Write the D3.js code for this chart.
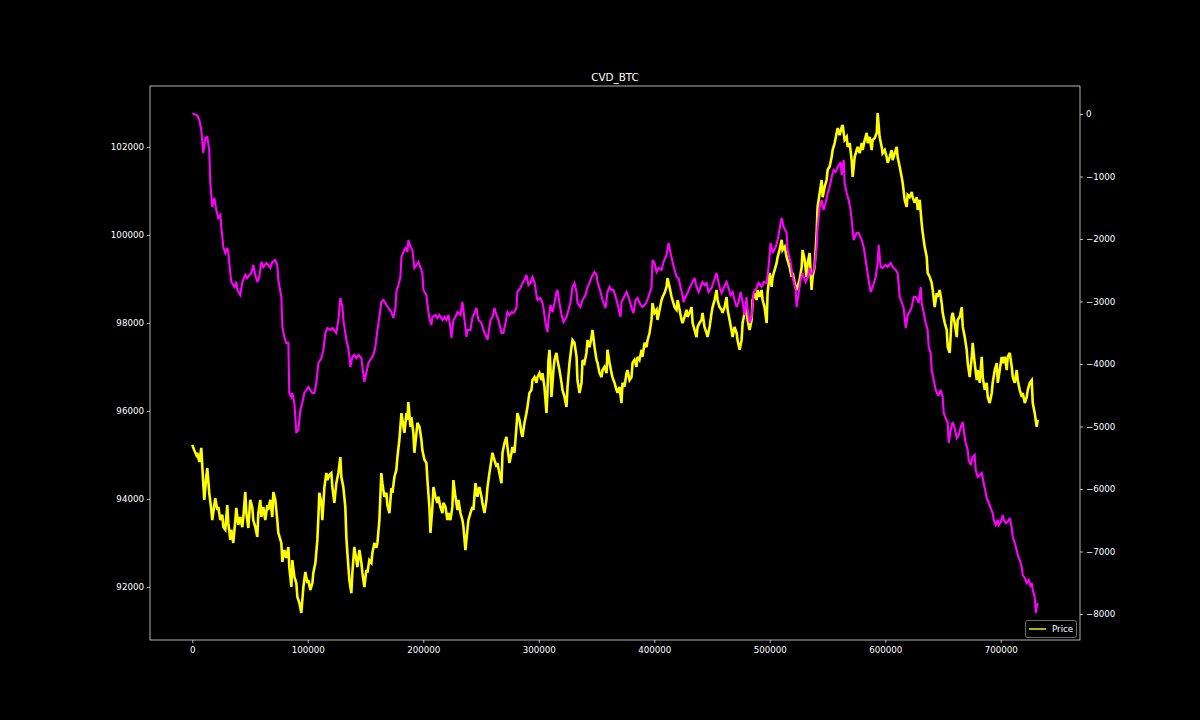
<!DOCTYPE html>
<html>
<head>
<meta charset="utf-8">
<script src="https://cdn.jsdelivr.net/npm/d3@7"></script>
<style>
  html, body { margin: 0; padding: 0; background: #000; }
  svg { display: block; }
  text { font-family: "DejaVu Sans", sans-serif; fill: #fff; }
</style>
</head>
<body>
<svg id="chart" width="1200" height="720"></svg>
<script>
// ---------------- data ----------------
const chartTitle = "CVD_BTC";
const legendLabels = ["Price"];
const xTicks = [0, 100000, 200000, 300000, 400000, 500000, 600000, 700000];
const priceTicks = [92000, 94000, 96000, 98000, 100000, 102000];
const cvdTicks = [0, -1000, -2000, -3000, -4000, -5000, -6000, -7000, -8000];
const xDomain = [-36600, 768600];
const priceDomain = [90795, 103386];
const cvdDomain = [-8416, 448];

// Price series: [tick index, price]
const priceSeries = [
[0,95230],[1700,95110],[3500,95000],[4300,95050],[6100,94840],[7800,95160],[8700,94730],[9500,94360],[10400,93980],[12100,94500],
[13000,94700],[14700,94140],[16500,93750],[17300,93520],[19900,94020],[21700,93750],[22500,93820],[24300,93520],[26000,93640],[26900,93360],
[28600,93300],[30300,93860],[31200,93450],[32900,93070],[33800,93300],[35500,93000],[37300,93520],[38100,93800],[39800,93410],[41600,93590],
[43300,93360],[44200,93590],[45900,94160],[46800,93680],[48500,93340],[50200,93980],[52000,93800],[52800,93520],[54600,93360],[56300,93140],
[57200,93680],[58900,93980],[59800,93590],[61500,93820],[63200,93520],[65000,93860],[65800,93750],[67600,93980],[69300,93590],[70200,94160],
[71900,93980],[73600,93520],[74500,93230],[77100,93000],[78000,92570],[79700,92840],[81400,92660],[83200,92910],[84000,92450],[85800,92000],
[86600,92610],[88400,92230],[90100,92090],[91000,91770],[92700,91640],[94400,91410],[95300,91700],[96200,92000],[97900,92340],[99600,92090],
[100500,92160],[102200,91930],[104000,92090],[104800,92320],[106600,92550],[108300,93070],[109200,93590],[110000,94140],[111800,93910],[112600,93520],
[114400,94270],[116100,94590],[117000,94430],[118700,94550],[120400,94590],[121300,94270],[123000,93910],[124700,94360],[126500,94590],[128200,94950],
[129100,94500],[130800,94270],[132500,93820],[133400,93140],[134300,92770],[136000,92160],[137700,91860],[138600,92320],[140300,92910],[142100,92610],
[142900,92450],[144700,92840],[146400,92550],[147300,92320],[149000,92000],[150700,92390],[151600,92320],[153300,92610],[155100,92550],[155900,92770],
[157700,93000],[159400,92890],[160300,93000],[162000,93520],[163700,94590],[164600,94360],[166300,94050],[168100,94140],[168900,93860],[170700,93680],
[172400,94250],[173300,94140],[175000,94500],[176700,94660],[177600,94950],[179300,95340],[181100,95950],[181900,95800],[183700,95500],[185400,95950],
[186300,95800],[187100,96200],[188900,95640],[189700,95860],[191400,95500],[192300,95050],[194100,95500],[194900,95730],[196700,95640],[198400,95340],
[199200,95110],[201000,94890],[202700,94820],[203600,94430],[205300,93820],[206200,93230],[207900,93820],[208800,94270],[210500,94050],[212200,93910],
[213100,94050],[214800,93820],[216600,93680],[217400,93910],[219200,93820],[220900,93520],[221800,93680],[223500,93520],[225200,93820],[226100,94430],
[227800,94050],[229600,93750],[230400,93980],[232200,93680],[233900,93520],[234800,93360],[236500,92840],[238200,93300],[239100,93520],[240800,93680],
[242600,93820],[243400,93750],[245200,94360],[246900,94050],[247800,94200],[248600,94270],[250400,94050],[251200,93910],[253000,93680],[254700,93980],
[255600,94270],[257300,94590],[259000,94890],[259900,95050],[261600,94890],[263400,94730],[264200,94820],[265900,94590],[267700,94360],[268600,95050],
[270300,95270],[272000,95410],[272900,95180],[274600,94820],[276400,95050],[277200,95180],[278900,95050],[280700,95640],[281500,95950],[283300,95800],
[285000,95500],[285900,95410],[287600,95730],[289300,95950],[290200,96090],[291900,96410],[293700,96480],[294500,96700],[296300,96770],[298000,96640],
[298900,96770],[300600,96860],[302300,96700],[303200,96860],[304900,96550],[306700,95950],[307500,96410],[308400,97160],[309300,97390],[310100,97000],
[311000,96320],[312700,96930],[313600,97160],[315300,97320],[316200,97160],[317900,96930],[319700,96640],[320500,96480],[322300,96320],[324000,96090],
[324900,96550],[326600,97090],[328300,97450],[329200,97610],[330900,97550],[332700,97230],[333500,96700],[335300,96410],[337000,96640],[337900,97160],
[339600,97090],[341300,97320],[342200,97610],[343900,97450],[345700,97680],[346500,97840],[348300,97450],[350000,97160],[350900,97090],[352600,96860],
[354300,96770],[355200,96930],[356900,97000],[358700,96860],[359500,97390],[361300,97090],[363000,96860],[363800,96770],[365600,96640],[367300,96480],
[368200,96410],[369900,96550],[371600,96180],[372500,96640],[374200,96550],[376000,96860],[376800,96930],[378600,96700],[380300,96770],[381200,97090],
[382900,97160],[384600,97000],[385500,97230],[387200,97160],[389000,97390],[389800,97230],[391600,97550],[393300,97450],[394200,97610],[395900,97770],
[397600,98070],[398500,98450],[400200,98230],[402000,98300],[402800,98070],[404600,98300],[406300,98520],[407200,98590],[408900,98680],[410600,98820],
[411500,99020],[413200,98820],[415000,98590],[415800,98520],[417600,98360],[419300,98300],[420200,98520],[421900,98300],[423600,98070],[424500,98000],
[426200,98140],[428000,98300],[428800,98140],[430500,98230],[432300,98360],[433200,98000],[434900,97840],[436600,97680],[437500,97910],[439200,98000],
[440900,98070],[441800,98230],[443500,97910],[445300,97770],[446100,97680],[447900,97910],[449600,98230],[450500,98360],[452200,98520],[453900,98750],
[454800,98520],[456500,98360],[458300,98300],[459100,98230],[460900,98360],[462600,98590],[463500,98300],[465200,98070],[466900,97840],[467800,97680],
[469500,97910],[471300,97770],[472100,97610],[473900,97390],[475600,97610],[476500,98000],[478200,98230],[479900,98360],[480800,98070],[482500,97840],
[484300,98070],[485100,98520],[486900,98680],[488600,98520],[489500,98750],[491200,98590],[492900,98750],[493800,98520],[495500,98360],[497300,98000],
[498100,98680],[499900,99140],[501600,98820],[502500,99050],[504200,99200],[505900,99360],[506800,99500],[508500,99660],[510300,99890],[511100,99660],
[512900,99730],[514600,99500],[515400,99430],[517200,99270],[518900,99050],[519800,99140],[521500,98910],[523200,98750],[524100,98820],[525800,98980],
[527600,99270],[528400,99660],[530200,99430],[531900,99050],[532800,99360],[534500,99590],[536200,98750],[537100,99050],[538800,99270],[540600,100050],
[541400,100640],[543200,100950],[544900,101250],[545800,100860],[547500,101090],[549200,101250],[550100,101480],[551800,101550],[553600,101770],[554400,101930],
[556200,102090],[557900,102320],[558800,102430],[560500,102270],[562200,102450],[563100,102500],[564800,102160],[566600,102230],[567400,102000],[569200,102090],
[570900,101700],[571800,101320],[573500,101770],[575200,101930],[576100,102000],[577800,101860],[579600,102090],[580400,101930],[582200,102160],[583900,102320],
[584800,102090],[586500,102230],[588200,101930],[589100,102160],[590800,102200],[592600,102320],[593400,102770],[595100,102230],[596900,102000],[597700,101860],
[599500,101930],[601200,101770],[602100,101640],[603800,101770],[605500,101930],[606400,101700],[608200,101860],[609900,102000],[610700,101770],[612500,101550],
[614200,101320],[615100,101180],[616800,100800],[618500,100640],[619400,100910],[621100,100860],[622900,100980],[623700,100860],[625500,100730],[627200,100860],
[628100,100570],[629800,100800],[631500,100270],[632400,100050],[634100,99730],[635900,99500],[636700,99140],[638400,99050],[640200,98910],[641100,98750],
[642800,98360],[644500,98680],[645400,98590],[647100,98750],[648900,98450],[649700,98230],[651500,98000],[653200,97840],[654100,97450],[655800,97320],
[657500,98140],[658400,98230],[660100,98000],[661900,97680],[662700,98070],[664500,98140],[666200,98360],[667100,97910],[668800,97680],[670500,97390],
[671400,97090],[673100,96770],[674900,97230],[675700,97550],[677400,97090],[679200,96700],[680000,96930],[681800,96640],[683500,97230],[684400,96770],
[686100,96480],[687800,96640],[688700,96320],[690400,96180],[692200,96410],[693000,96640],[694800,96930],[696500,97090],[697400,96640],[699100,96930],
[700800,97230],[701700,97090],[703400,97230],[705200,96930],[706000,97230],[707800,97320],[709500,97000],[710400,96770],[712100,96640],[713800,96930],
[714700,96700],[716400,96480],[718200,96320],[719000,96410],[720800,96180],[722500,96320],[723400,96480],[725100,96640],[726800,96700],[727700,96180],
[729400,95950],[731100,95640],[732000,95800]
];

// CVD series: [tick index, cumulative volume delta]
const cvdSeries = [
[0,10],[4300,-20],[6100,-96],[7800,-256],[9500,-624],[11300,-384],[13000,-368],[14700,-576],[15600,-1104],[17300,-1488],
[19100,-1344],[20800,-1536],[22500,-1664],[24300,-1616],[25100,-1808],[26900,-2128],[28600,-2224],[30300,-2144],[31200,-2224],[32900,-2544],
[33800,-2688],[36400,-2768],[38100,-2688],[39000,-2816],[41600,-2896],[43300,-2688],[45900,-2576],[47600,-2624],[49400,-2576],[51100,-2544],
[52800,-2416],[54600,-2576],[56300,-2688],[58000,-2608],[59800,-2368],[61500,-2448],[64100,-2384],[65800,-2416],[67600,-2464],[69300,-2368],
[71900,-2336],[73600,-2416],[74500,-2656],[77100,-2928],[78000,-3408],[79700,-3568],[81400,-3664],[83200,-3664],[84000,-4464],[85800,-4528],
[86600,-4464],[88400,-4624],[90100,-5104],[91800,-5056],[93600,-4736],[95300,-4624],[97000,-4464],[98800,-4416],[100500,-4368],[102200,-4416],
[104000,-4464],[105700,-4464],[107400,-4304],[109200,-3984],[111800,-3904],[113500,-3776],[115200,-3504],[117000,-3424],[119500,-3456],[121300,-3424],
[124700,-3504],[126500,-3296],[128200,-2944],[130000,-3088],[130800,-3296],[133400,-3616],[135100,-3744],[136900,-4048],[138600,-3888],[140300,-3856],
[142100,-3904],[143800,-3856],[146400,-3904],[147300,-4048],[149000,-4288],[150700,-4144],[152500,-3984],[155100,-3904],[156800,-3856],[158500,-3728],
[160300,-3456],[162000,-3248],[163700,-3008],[165500,-2976],[168100,-3056],[169800,-3104],[172400,-3168],[174100,-3264],[175900,-3104],[176700,-2848],
[178500,-2736],[180200,-2608],[181100,-2288],[182800,-2208],[184500,-2144],[186300,-2208],[187100,-2016],[188900,-2128],[190600,-2176],[192300,-2464],
[194100,-2416],[195800,-2368],[197500,-2448],[199200,-2544],[200100,-2816],[202700,-2896],[203600,-3056],[205300,-3264],[207000,-3376],[207900,-3248],
[210500,-3216],[212200,-3264],[214000,-3216],[216600,-3296],[218300,-3248],[220000,-3296],[221800,-3216],[223500,-3424],[224400,-3584],[226100,-3296],
[227800,-3248],[229600,-3168],[232200,-3216],[233900,-3008],[234800,-3136],[237400,-3568],[238200,-3456],[240800,-3456],[242600,-3248],[244300,-3184],
[246000,-3104],[247800,-3296],[250400,-3344],[252100,-3456],[254700,-3568],[255600,-3616],[258200,-3296],[259900,-3248],[261600,-3104],[263400,-3216],
[265100,-3296],[267700,-3504],[269400,-3504],[271200,-3344],[272900,-3168],[274600,-3216],[276400,-3168],[278100,-3184],[280700,-3104],[281500,-2848],
[284100,-2784],[285900,-2704],[287600,-2656],[289300,-2576],[291100,-2736],[292800,-2704],[294500,-2608],[296300,-2688],[298000,-2896],[298900,-2976],
[301500,-2944],[303200,-3024],[304100,-3104],[305800,-3344],[307500,-3488],[308400,-3296],[310100,-3056],[311900,-3168],[313600,-3024],[315300,-2848],
[316200,-2816],[317900,-3024],[319700,-3216],[321400,-3328],[324000,-3248],[325700,-3136],[327500,-3008],[329200,-2768],[330900,-2704],[332700,-2848],
[333500,-3024],[336100,-3088],[337900,-2976],[340500,-2896],[342200,-2768],[343900,-2704],[345700,-2608],[348300,-2528],[350000,-2576],[350900,-2688],
[353500,-2848],[355200,-2976],[357800,-3104],[359500,-2848],[361300,-2768],[363000,-2816],[364700,-2816],[367300,-2976],[369000,-3104],[370800,-3248],
[371600,-3008],[373400,-2944],[376000,-2848],[378600,-2976],[380300,-3104],[382000,-3184],[383800,-2976],[385500,-2944],[388100,-3056],[389800,-3088],
[391600,-3056],[393300,-3008],[395000,-2928],[397600,-2768],[398500,-2336],[400200,-2384],[402000,-2528],[403700,-2464],[406300,-2496],[408000,-2368],
[410600,-2256],[412400,-2064],[414100,-2224],[415800,-2368],[417600,-2496],[419300,-2608],[421000,-2624],[422700,-2768],[424500,-2896],[425300,-3008],
[427100,-2928],[428800,-2864],[430500,-2784],[433200,-2688],[434900,-2624],[436600,-2768],[438400,-2848],[440100,-2768],[441800,-2688],[443500,-2736],
[445300,-2704],[447000,-2848],[449600,-2784],[451300,-2688],[453900,-2544],[454800,-2624],[456500,-2768],[458300,-2864],[460000,-2784],[462600,-2688],
[464300,-2784],[466100,-2896],[467800,-2848],[469500,-2976],[471300,-3088],[473000,-3008],[474700,-2848],[476500,-3008],[478200,-3216],[479900,-2928],
[480800,-3136],[482500,-3344],[484300,-3248],[486000,-2848],[488600,-2784],[490300,-2704],[492900,-2768],[494700,-2688],[497300,-2704],[499000,-2448],
[500700,-2064],[502500,-2224],[505100,-2128],[506800,-2016],[509400,-1744],[510300,-1664],[512000,-1808],[514600,-1904],[515400,-2176],[518100,-2384],
[519800,-2608],[522400,-2816],[523200,-3088],[525000,-2864],[526700,-2656],[528400,-2544],[531000,-2688],[532800,-2624],[534500,-2464],[536200,-2576],
[538800,-2448],[540600,-2128],[541400,-1808],[543200,-1488],[544900,-1376],[546600,-1536],[548400,-1424],[550100,-1264],[551800,-1168],[553600,-1008],
[555300,-896],[557000,-928],[558800,-848],[561400,-768],[562200,-976],[564000,-736],[564800,-1104],[566600,-1264],[568300,-1376],[570000,-1536],
[571800,-1856],[572600,-2016],[575200,-1904],[577000,-1904],[579600,-2016],[581300,-2128],[583900,-2448],[585600,-2656],[587400,-2848],[589100,-2768],
[591700,-2608],[593400,-2384],[594300,-2096],[596000,-2448],[597700,-2464],[600300,-2416],[602100,-2448],[604700,-2384],[606400,-2448],[609000,-2496],
[610700,-2544],[612500,-2928],[614200,-3008],[615900,-3104],[617700,-3424],[619400,-3216],[621100,-3168],[622900,-3088],[624600,-2928],[626300,-2928],
[628100,-2976],[628900,-3024],[630700,-2768],[631500,-3024],[633300,-3184],[635000,-3344],[636700,-3456],[637600,-3728],[639300,-3824],[640200,-4096],
[641900,-4256],[643700,-4416],[645400,-4496],[646300,-4496],[648000,-4416],[649700,-4528],[650600,-4784],[652300,-4864],[654100,-4944],[654900,-5264],
[656700,-5056],[658400,-4928],[660100,-5024],[661900,-5184],[663600,-5136],[665300,-5008],[667100,-4928],[667900,-5056],[669600,-5264],[671400,-5376],
[672200,-5536],[674000,-5616],[675700,-5488],[677400,-5456],[678300,-5696],[680000,-5808],[681800,-5776],[683500,-5744],[685200,-5904],[687000,-6064],
[687800,-6144],[689600,-6224],[691300,-6304],[693000,-6384],[693900,-6496],[695600,-6576],[697400,-6496],[698200,-6576],[700000,-6528],[701700,-6416],
[702600,-6496],[704300,-6544],[706000,-6528],[707800,-6464],[709500,-6624],[710400,-6768],[712100,-6864],[713800,-6976],[714700,-7056],[716400,-7136],
[718200,-7248],[719000,-7376],[720800,-7424],[722500,-7504],[724200,-7456],[726000,-7568],[726800,-7504],[727700,-7616],[729400,-7728],[730300,-7984],
[731100,-7888],[732000,-7824]
];

// ---------------- drawing ----------------
const W = 1200, H = 720;
const plot = { left: 150, right: 1080, top: 86, bottom: 640 };
const svg = d3.select("#chart");
svg.append("rect").attr("width", W).attr("height", H).attr("fill", "#000");

const x = d3.scaleLinear().domain(xDomain).range([plot.left, plot.right]);
const yP = d3.scaleLinear().domain(priceDomain).range([plot.bottom, plot.top]);
const yC = d3.scaleLinear().domain(cvdDomain).range([plot.bottom, plot.top]);

svg.append("clipPath").attr("id", "clip")
  .append("rect").attr("x", plot.left).attr("y", plot.top)
  .attr("width", plot.right - plot.left).attr("height", plot.bottom - plot.top);

const fontSize = 8.7;
const fmt = d3.format("d");

function styleAxis(g) {
  g.select(".domain").remove();
  g.selectAll(".tick line").attr("stroke", "#fff").attr("stroke-width", 0.7);
  g.selectAll(".tick text").attr("fill", "#fff")
    .style("font-family", "'DejaVu Sans', sans-serif").style("font-size", fontSize + "px");
}

svg.append("g").attr("transform", `translate(0,${plot.bottom})`)
  .call(d3.axisBottom(x).tickValues(xTicks).tickFormat(fmt).tickSize(3).tickPadding(4))
  .call(styleAxis);
svg.append("g").attr("transform", `translate(${plot.left},0)`)
  .call(d3.axisLeft(yP).tickValues(priceTicks).tickFormat(fmt).tickSize(3).tickPadding(3))
  .call(styleAxis);
svg.append("g").attr("transform", `translate(${plot.right},0)`)
  .call(d3.axisRight(yC).tickValues(cvdTicks).tickFormat(fmt).tickSize(3).tickPadding(3))
  .call(styleAxis);

const gLines = svg.append("g").attr("clip-path", "url(#clip)");
const linePrice = d3.line().x(d => x(d[0])).y(d => yP(d[1]));
const lineCvd = d3.line().x(d => x(d[0])).y(d => yC(d[1]));

gLines.append("path").datum(priceSeries)
  .attr("d", linePrice).attr("fill", "none").attr("stroke", "#ffff00")
  .attr("stroke-width", 2.6).attr("stroke-linejoin", "miter").attr("stroke-miterlimit", 3);
gLines.append("path").datum(cvdSeries)
  .attr("d", lineCvd).attr("fill", "none").attr("stroke", "#ff00ff")
  .attr("stroke-width", 2.1).attr("stroke-linejoin", "miter").attr("stroke-miterlimit", 3);

// frame
svg.append("rect").attr("x", plot.left).attr("y", plot.top)
  .attr("width", plot.right - plot.left).attr("height", plot.bottom - plot.top)
  .attr("fill", "none").attr("stroke", "#fff").attr("stroke-width", 0.7);

// title
svg.append("text").attr("x", (plot.left + plot.right) / 2).attr("y", plot.top - 5)
  .attr("text-anchor", "middle").style("font-size", "10.4px").text(chartTitle);

// legend
const lg = svg.append("g");
lg.append("rect").attr("x", 1025.5).attr("y", 620.5).attr("width", 51).attr("height", 17)
  .attr("rx", 2).attr("fill", "#000").attr("fill-opacity", 0.8)
  .attr("stroke", "#888").attr("stroke-width", 0.8);
lg.append("line").attr("x1", 1029).attr("x2", 1046).attr("y1", 629).attr("y2", 629)
  .attr("stroke", "#ffff00").attr("stroke-width", 1.4);
lg.append("text").attr("x", 1052).attr("y", 632).style("font-size", fontSize + "px").text(legendLabels[0]);
</script>
</body>
</html>
